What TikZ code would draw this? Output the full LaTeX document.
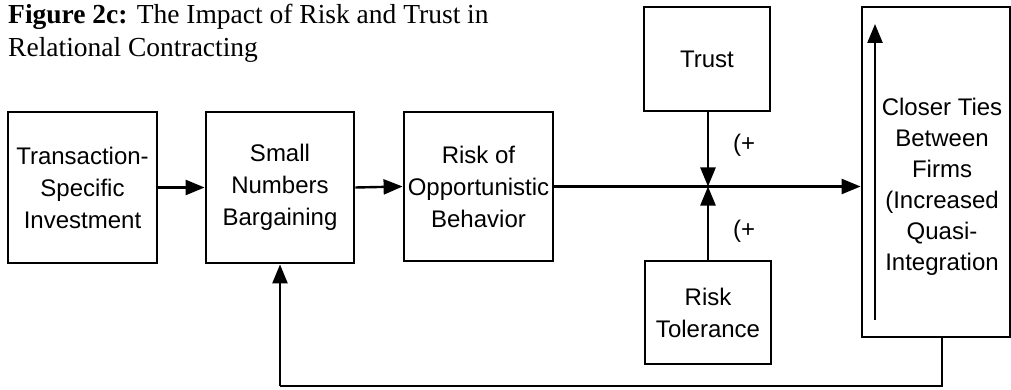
\documentclass[tikz,border=0pt]{standalone}
\usepackage{fontspec}
\setmainfont{Liberation Serif}
\setsansfont{Liberation Sans}
\usetikzlibrary{arrows.meta}
\begin{document}
\begin{tikzpicture}[x=1pt,y=-1pt,
  box/.style={draw,line width=2.8pt,inner sep=0pt,align=center,font=\sffamily\fontsize{24}{32}\selectfont},
  conn/.style={line width=2.4pt,-{Triangle[length=19pt,width=15pt]}},
  plain/.style={line width=2.4pt},
  lbl/.style={font=\sffamily\fontsize{24}{28}\selectfont,inner sep=0pt,anchor=west}]
\useasboundingbox (0,0) rectangle (1011,390);
\node[anchor=north west,inner sep=0pt,align=left,font=\fontsize{27.5}{33}\selectfont] (title) at (8,4)
  {\textbf{Figure 2c:} The Impact of Risk and Trust in\\Relational Contracting};
\node[box,minimum width=149pt,minimum height=151pt] (tsi) at (82.5,187.5) {Transaction-\\Specific\\Investment};
\node[box,minimum width=148pt,minimum height=151pt] (snb) at (280,187.5) {Small\\Numbers\\Bargaining};
\node[box,minimum width=149pt,minimum height=149pt] (rob) at (478.5,186.5) {Risk of\\Opportunistic\\Behavior};
\node[box,minimum width=126pt,minimum height=104pt] (trust) at (707,59) {Trust};
\node[box,minimum width=126pt,minimum height=103pt] (rt) at (708,312.5) {Risk\\Tolerance};
\node[draw,line width=2.8pt,minimum width=148pt,minimum height=330pt,inner sep=0pt] (ct) at (936,172) {};
\node[align=center,inner sep=0pt,font=\sffamily\fontsize{24}{31}\selectfont] (cttext) at (942,187)
  {Closer Ties\\Between\\Firms\\(Increased\\Quasi-\\Integration};
\coordinate (junc) at (708,186.5);
\coordinate (ia) at (875,320);
\coordinate (ib) at (875,24);
\coordinate (fb1) at (942,386);
\coordinate (fb2) at (280,386);
\draw[conn] (tsi.east) -- (snb.west);
\draw[conn] (snb.east) -- (rob.west);
\draw[conn] (rob.east) -- (rob.east -| ct.west);
\draw[conn] (trust.south -| junc) -- (junc);
\draw[conn] (rt.north -| junc) -- (junc);
\draw[conn] (ia) -- (ib);
\draw[plain] (ct.south -| fb1) -- (fb1) -- (fb2);
\draw[conn] (fb2) -- (snb.south);
\node[lbl] (p1) at (733,145) {(+};
\node[lbl] (p2) at (733,231) {(+};
\end{tikzpicture}
\end{document}
